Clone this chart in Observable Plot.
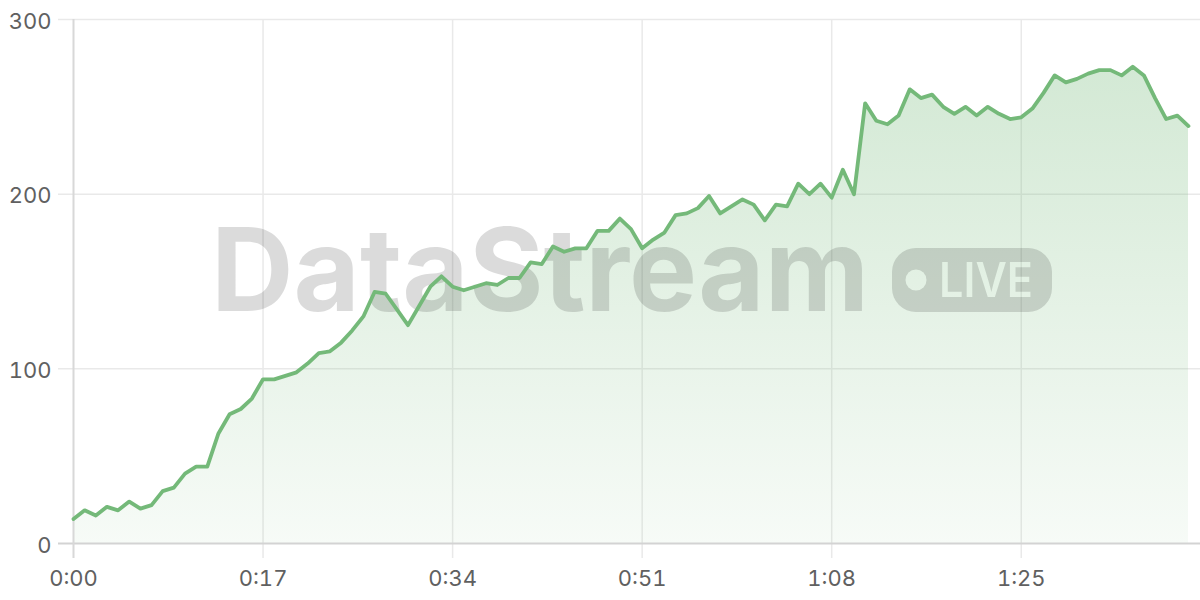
<!DOCTYPE html>
<html>
<head>
<meta charset="utf-8">
<script src="https://cdn.jsdelivr.net/npm/d3@7"></script>
<script src="https://cdn.jsdelivr.net/npm/@observablehq/plot@0.6"></script>
<style>
  html, body { margin: 0; padding: 0; background: #ffffff; }
  #chart { width: 1200px; height: 600px; }
</style>
</head>
<body>
<div id="chart"></div>
<script>
// Elapsed seconds and values (one sample per second)
const seconds = d3.range(0, 101);
const values = [
  14, 19, 16, 21, 19, 24, 20, 22, 30, 32,
  40, 44, 44, 63, 74, 77, 83, 94, 94, 96,
  98, 103, 109, 110, 115, 122, 130, 144, 143, 134,
  125, 136, 147, 153, 147, 145, 147, 149, 148, 152,
  152, 161, 160, 170, 167, 169, 169, 179, 179, 186,
  180, 169, 174, 178, 188, 189, 192, 199, 189, 193,
  197, 194, 185, 194, 193, 206, 200, 206, 198, 214,
  200, 252, 242, 240, 245, 260, 255, 257, 250, 246,
  250, 245, 250, 246, 243, 244, 249, 258, 268, 264,
  266, 269, 271, 271, 268, 273, 268, 255, 243, 245,
  239
];
const xTicks = [0, 17, 34, 51, 68, 85];
const yTicks = [0, 100, 200, 300];
const watermarkTitle = "DataStream";
const watermarkBadge = "LIVE";

const data = seconds.map((s, i) => ({s, v: values[i]}));
const fmt = s => `${Math.floor(s / 60)}:${String(s % 60).padStart(2, "0")}`;

const lineColor = "#74b979";

const plot = Plot.plot({
  width: 1200,
  height: 600,
  marginLeft: 73,
  marginRight: 12,
  marginTop: 19,
  marginBottom: 57,
  style: {fontFamily: "Inter, 'Noto Sans', sans-serif", fontSize: "22px", color: "#606060", background: "#fff"},
  x: {domain: [0, 100], label: null},
  y: {domain: [0, 300], label: null},
  marks: [
    Plot.ruleY(yTicks.filter(d => d !== 0), {stroke: "#e9e9e9", strokeWidth: 1.5, insetLeft: -15, insetRight: -12}),
    Plot.ruleX(xTicks.filter(d => d !== 0), {stroke: "#e9e9e9", strokeWidth: 1.5, insetBottom: -15}),
    Plot.areaY(data, {x: "s", y: "v", fill: "url(#areaGrad)"}),
    Plot.ruleY([0], {stroke: "#d3d3d3", strokeWidth: 2, insetLeft: -15, insetRight: -12}),
    Plot.ruleX([0], {stroke: "#d8d8d8", strokeWidth: 2, insetBottom: -15}),
    Plot.lineY(data, {x: "s", y: "v", stroke: lineColor, strokeWidth: 3.8, strokeLinejoin: "round"}),
    Plot.axisY({ticks: yTicks, tickSize: 0, tickPadding: 22, dy: 2, fill: "#606060", letterSpacing: "1px", label: null}),
    Plot.axisX({ticks: xTicks, tickSize: 0, tickPadding: 27, tickFormat: fmt, fill: "#606060", letterSpacing: "1px", label: null})
  ]
});

document.getElementById("chart").appendChild(plot);

// defs: gradient for the area and mask for the badge
const svg = d3.select(plot);
const defs = svg.insert("defs", ":first-child");
const grad = defs.append("linearGradient")
  .attr("id", "areaGrad")
  .attr("gradientUnits", "userSpaceOnUse")
  .attr("x1", 0).attr("x2", 0).attr("y1", 60).attr("y2", 543);
grad.append("stop").attr("offset", "0").attr("stop-color", lineColor).attr("stop-opacity", 0.32);
grad.append("stop").attr("offset", "1").attr("stop-color", lineColor).attr("stop-opacity", 0.06);

const mask = defs.append("mask").attr("id", "badgeMask");
mask.append("rect").attr("x", 0).attr("y", 0).attr("width", 1200).attr("height", 600).attr("fill", "#fff");
mask.append("circle").attr("cx", 916).attr("cy", 280).attr("r", 10.5).attr("fill", "#000");
mask.append("text").attr("x", 939).attr("y", 297).attr("text-anchor", "start")
  .attr("font-family", "Inter, 'Noto Sans', sans-serif").attr("font-weight", 600)
  .attr("font-size", 48).attr("textLength", 94).attr("lengthAdjust", "spacingAndGlyphs")
  .attr("fill", "#000").text(watermarkBadge);

// watermark between area and line
const lineNode = plot.querySelector('g[aria-label="line"]');
const wm = document.createElementNS("http://www.w3.org/2000/svg", "g");
plot.insertBefore(wm, lineNode);
const wmSel = d3.select(wm).attr("opacity", 0.145).attr("fill", "#000");
wmSel.append("text")
  .attr("x", 211).attr("y", 311).attr("text-anchor", "start")
  .attr("font-family", "Inter, 'Noto Sans', sans-serif").attr("font-weight", 700)
  .attr("font-size", 115).attr("textLength", 658).attr("lengthAdjust", "spacingAndGlyphs")
  .text(watermarkTitle);
wmSel.append("rect")
  .attr("x", 892).attr("y", 248).attr("width", 160).attr("height", 64).attr("rx", 24)
  .attr("mask", "url(#badgeMask)");
</script>
</body>
</html>
